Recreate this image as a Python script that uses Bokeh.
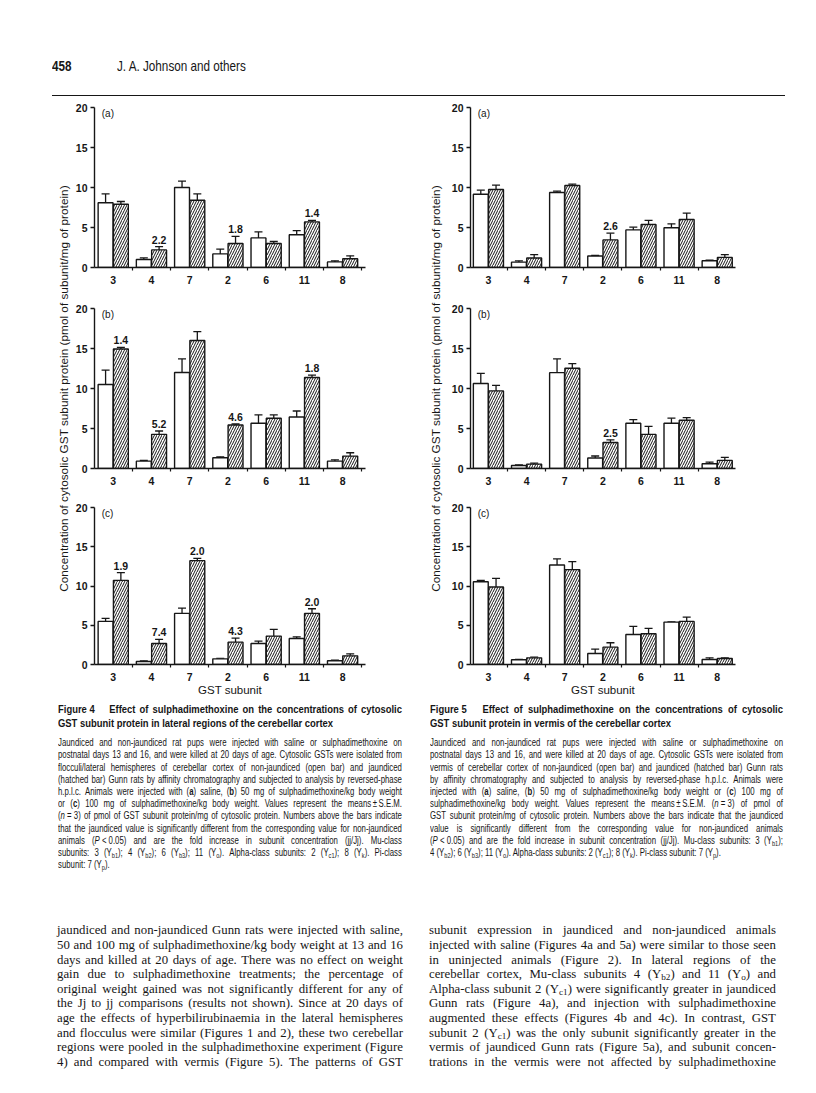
import math
from bokeh.plotting import figure
from bokeh.models import Range1d, FixedTicker, ColumnDataSource, Whisker, TeeHead, Div, Label
from bokeh.layouts import column, row
from bokeh.embed import file_html
from bokeh.resources import INLINE
from bokeh.core.properties import value

# ---------------- data ----------------
subunits = ["3", "4", "7", "2", "6", "11", "8"]

# Figure 4: lateral regions (non-jaundiced = open, jaundiced = hatched)
f4a_nonj = [8.1, 1.0, 10.0, 1.7, 3.7, 4.1, 0.7]
f4a_nonj_sem = [1.1, 0.2, 0.8, 0.6, 0.75, 0.5, 0.13]
f4a_jaun = [7.9, 2.2, 8.4, 3.0, 3.0, 5.7, 1.1]
f4a_jaun_sem = [0.35, 0.4, 0.8, 0.9, 0.25, 0.2, 0.36]
f4a_fold = ["", "2.2", "", "1.8", "", "1.4", ""]

f4b_nonj = [10.5, 0.92, 12.0, 1.34, 5.65, 6.44, 0.92]
f4b_nonj_sem = [1.8, 0.1, 1.7, 0.12, 1.05, 0.75, 0.17]
f4b_jaun = [14.94, 4.27, 16.0, 5.44, 6.28, 11.38, 1.55]
f4b_jaun_sem = [0.2, 0.42, 1.1, 0.12, 0.42, 0.3, 0.42]
f4b_fold = ["1.4", "5.2", "", "4.6", "", "1.8", ""]

f4c_nonj = [5.49, 0.38, 6.51, 0.72, 2.68, 3.32, 0.47]
f4c_nonj_sem = [0.38, 0.09, 0.68, 0.05, 0.3, 0.21, 0.08]
f4c_jaun = [10.72, 2.68, 13.23, 2.85, 3.62, 6.51, 1.1]
f4c_jaun_sem = [0.98, 0.51, 0.3, 0.51, 0.85, 0.59, 0.26]
f4c_fold = ["1.9", "7.4", "2.0", "4.3", "", "2.0", ""]

# Figure 5: vermis
f5a_nonj = [9.16, 0.67, 9.37, 1.43, 4.7, 4.96, 0.84]
f5a_nonj_sem = [0.5, 0.17, 0.17, 0.08, 0.34, 0.5, 0.08]
f5a_jaun = [9.75, 1.18, 10.25, 3.45, 5.38, 6.0, 1.26]
f5a_jaun_sem = [0.55, 0.42, 0.17, 0.84, 0.5, 0.8, 0.34]
f5a_fold = ["", "", "", "2.6", "", "", ""]

f5b_nonj = [10.63, 0.38, 11.98, 1.31, 5.65, 5.65, 0.59]
f5b_nonj_sem = [1.27, 0.08, 1.72, 0.25, 0.47, 0.64, 0.21]
f5b_jaun = [9.7, 0.55, 12.53, 3.25, 4.26, 6.03, 1.01]
f5b_jaun_sem = [0.68, 0.13, 0.59, 0.34, 1.01, 0.34, 0.38]
f5b_fold = ["", "", "", "2.5", "", "", ""]

f5c_nonj = [10.55, 0.6, 12.68, 1.4, 3.83, 5.4, 0.64]
f5c_nonj_sem = [0.17, 0.04, 0.77, 0.56, 1.02, 0.03, 0.21]
f5c_jaun = [9.87, 0.85, 12.09, 2.21, 3.91, 5.49, 0.77]
f5c_jaun_sem = [1.11, 0.09, 1.01, 0.56, 0.69, 0.55, 0.08]
f5c_fold = ["", "", "", "", "", "", ""]

y_ticks = [0, 5, 10, 15, 20]
y_title = "Concentration of cytosolic GST subunit protein (pmol of subunit/mg of protein)"
x_title = "GST subunit"

# ---------------- style ----------------
SANS = "Liberation Sans"
SERIF = "Liberation Serif"
INK = "#161616"


def panel(nonj, nonj_sem, jaun, jaun_sem, fold, letter, width, height,
          bl, br, bt, bb, x0, x1, xlabel=None):
    p = figure(width=width, height=height, x_range=Range1d(x0, x1), y_range=Range1d(0, 20),
               output_backend="svg", toolbar_location=None,
               min_border_left=bl, min_border_right=br, min_border_top=bt, min_border_bottom=bb)
    p.outline_line_color = None
    p.grid.visible = False
    p.background_fill_color = "white"
    p.border_fill_color = "white"
    xs = list(range(len(subunits)))
    src = ColumnDataSource(dict(
        xo=[i - 0.2 for i in xs], xj=[i + 0.2 for i in xs],
        nonj=nonj, nonj_hi=[v + s for v, s in zip(nonj, nonj_sem)],
        jaun=jaun, jaun_hi=[v + s for v, s in zip(jaun, jaun_sem)],
        fold=fold))
    p.vbar(x="xo", top="nonj", bottom=0, width=0.39, source=src,
           fill_color="white", line_color=INK, line_width=1.4)
    p.vbar(x="xj", top="jaun", bottom=0, width=0.39, source=src,
           fill_color="white", hatch_pattern="/", hatch_color=INK, hatch_scale=5,
           hatch_weight=1.0, line_color=INK, line_width=1.4)
    for base, lo, hi in (("xo", "nonj", "nonj_hi"), ("xj", "jaun", "jaun_hi")):
        w = Whisker(base=base, lower=lo, upper=hi, source=src, dimension="height",
                    line_color=INK, line_width=1.3, lower_head=None,
                    upper_head=TeeHead(size=8, line_color=INK, line_width=1.3))
        p.add_layout(w)
    p.text(x="xj", y="jaun_hi", text="fold", source=src, text_align="center",
           text_baseline="bottom", y_offset=-3, text_font=value(SANS),
           text_font_style="bold", text_font_size="10.5px", text_color=INK)
    p.add_layout(Label(x=x0 + 0.19, y=19.2, text=letter, text_baseline="middle",
                       text_font=SANS, text_font_size="10px", text_color=INK))

    yax = p.yaxis[0]
    yax.ticker = FixedTicker(ticks=y_ticks)
    yax.major_tick_out = 4
    yax.major_tick_in = 0
    yax.minor_tick_out = 0
    yax.minor_tick_in = 0
    yax.major_label_standoff = 3
    yax.axis_line_width = 1.4
    yax.axis_line_color = INK
    yax.major_tick_line_width = 1.3
    yax.major_tick_line_color = INK
    yax.major_label_text_font = SANS
    yax.major_label_text_font_style = "bold"
    yax.major_label_text_font_size = "10.5px"
    yax.major_label_text_color = INK

    xax = p.xaxis[0]
    xax.ticker = FixedTicker(ticks=xs, minor_ticks=[i + 0.5 for i in xs])
    xax.major_label_overrides = {i: s for i, s in enumerate(subunits)}
    xax.major_tick_out = 0
    xax.major_tick_in = 0
    xax.minor_tick_out = 3
    xax.minor_tick_in = 0
    xax.minor_tick_line_color = INK
    xax.minor_tick_line_width = 1.2
    xax.major_label_standoff = 5
    xax.axis_line_width = 1.4
    xax.axis_line_color = INK
    xax.major_label_text_font = SANS
    xax.major_label_text_font_style = "bold"
    xax.major_label_text_font_size = "10.5px"
    xax.major_label_text_color = INK
    if xlabel:
        xax.axis_label = xlabel
        xax.axis_label_standoff = 0
        xax.axis_label_text_font = SANS
        xax.axis_label_text_font_style = "normal"
        xax.axis_label_text_font_size = "11.5px"
        xax.axis_label_text_color = INK
    return p


def ytitle_fig(width, xpos):
    p = figure(width=width, height=600, x_range=Range1d(0, width), y_range=Range1d(0, 600),
               output_backend="svg", toolbar_location=None, min_border=0,
               x_axis_location=None, y_axis_location=None)
    p.outline_line_color = None
    p.grid.visible = False
    p.text(x=[xpos], y=[312], text=[y_title], angle=math.pi / 2, text_align="center",
           text_baseline="middle", text_font=value(SANS), text_font_size="11.8px",
           text_color=INK)
    return p


# Figure 4 column (page x 72..420)
F4X0, F4X1 = -0.49, 6.60
p4a = panel(f4a_nonj, f4a_nonj_sem, f4a_jaun, f4a_jaun_sem, f4a_fold, "(a)",
            348, 190, 20, 55, 7, 23, F4X0, F4X1)
p4b = panel(f4b_nonj, f4b_nonj_sem, f4b_jaun, f4b_jaun_sem, f4b_fold, "(b)",
            348, 197, 20, 55, 18, 19, F4X0, F4X1)
p4c = panel(f4c_nonj, f4c_nonj_sem, f4c_jaun, f4c_jaun_sem, f4c_fold, "(c)",
            348, 213, 20, 55, 20, 36, F4X0, F4X1, xlabel=x_title)

# Figure 5 column (page x 448..808)
F5X0, F5X1 = -0.47, 6.48
p5a = panel(f5a_nonj, f5a_nonj_sem, f5a_jaun, f5a_jaun_sem, f5a_fold, "(a)",
            360, 190, 20, 73, 7, 23, F5X0, F5X1)
p5b = panel(f5b_nonj, f5b_nonj_sem, f5b_jaun, f5b_jaun_sem, f5b_fold, "(b)",
            360, 197, 20, 73, 18, 19, F5X0, F5X1)
p5c = panel(f5c_nonj, f5c_nonj_sem, f5c_jaun, f5c_jaun_sem, f5c_fold, "(c)",
            360, 213, 20, 73, 20, 36, F5X0, F5X1, xlabel=x_title)

yt4 = ytitle_fig(72, 63)
yt5 = ytitle_fig(28, 15)

# ---------------- texts ----------------
SUB = '<sub style="font-size:0.72em;vertical-align:-0.25em;line-height:0">'


def fix(s):
    return s.replace("<sub>", SUB)


def line_html(ln, lh, justify):
    if justify:
        words = ln.split(" ")
        inner = "".join(f"<span>{fix(w)}</span>" for w in words)
        return (f'<div style="display:flex;justify-content:space-between;white-space:nowrap;'
                f'height:{lh}px;line-height:{lh}px">{inner}</div>')
    return f'<div style="white-space:nowrap;height:{lh}px;line-height:{lh}px">{fix(ln)}</div>'


def block(lines, lh, last_left=True):
    out = []
    for k, ln in enumerate(lines):
        last = (k == len(lines) - 1)
        out.append(line_html(ln, lh, not (last and last_left)))
    return "".join(out)


cap4_title = ["Figure&nbsp;4&nbsp;&nbsp;&nbsp;&nbsp; Effect of sulphadimethoxine on the concentrations of cytosolic",
              "GST subunit protein in lateral regions of the cerebellar cortex"]
cap4_body = [
    "Jaundiced and non-jaundiced rat pups were injected with saline or sulphadimethoxine on",
    "postnatal days 13 and 16, and were killed at 20 days of age. Cytosolic GSTs were isolated from",
    "flocculi/lateral hemispheres of cerebellar cortex of non-jaundiced (open bar) and jaundiced",
    "(hatched bar) Gunn rats by affinity chromatography and subjected to analysis by reversed-phase",
    "h.p.l.c. Animals were injected with (<b>a</b>) saline, (<b>b</b>) 50 mg of sulphadimethoxine/kg body weight",
    "or (<b>c</b>) 100 mg of sulphadimethoxine/kg body weight. Values represent the means&thinsp;&plusmn;&thinsp;S.E.M.",
    "(<i>n</i>&nbsp;=&nbsp;3) of pmol of GST subunit protein/mg of cytosolic protein. Numbers above the bars indicate",
    "that the jaundiced value is significantly different from the corresponding value for non-jaundiced",
    "animals (<i>P</i>&nbsp;&lt;&nbsp;0.05) and are the fold increase in subunit concentration (jj/Jj). Mu-class",
    "subunits: 3 (Y<sub>b1</sub>); 4 (Y<sub>b2</sub>); 6 (Y<sub>b3</sub>); 11 (Y<sub>o</sub>). Alpha-class subunits: 2 (Y<sub>c1</sub>); 8 (Y<sub>k</sub>). Pi-class",
    "subunit: 7 (Y<sub>p</sub>).",
]
cap5_title = ["Figure&nbsp;5&nbsp;&nbsp;&nbsp;&nbsp; Effect of sulphadimethoxine on the concentrations of cytosolic",
              "GST subunit protein in vermis of the cerebellar cortex"]
cap5_body = [
    "Jaundiced and non-jaundiced rat pups were injected with saline or sulphadimethoxine on",
    "postnatal days 13 and 16, and were killed at 20 days of age. Cytosolic GSTs were isolated from",
    "vermis of cerebellar cortex of non-jaundiced (open bar) and jaundiced (hatched bar) Gunn rats",
    "by affinity chromatography and subjected to analysis by reversed-phase h.p.l.c. Animals were",
    "injected with (<b>a</b>) saline, (<b>b</b>) 50 mg of sulphadimethoxine/kg body weight or (<b>c</b>) 100 mg of",
    "sulphadimethoxine/kg body weight. Values represent the means&thinsp;&plusmn;&thinsp;S.E.M. (<i>n</i>&nbsp;=&nbsp;3) of pmol of",
    "GST subunit protein/mg of cytosolic protein. Numbers above the bars indicate that the jaundiced",
    "value is significantly different from the corresponding value for non-jaundiced animals",
    "(<i>P</i>&nbsp;&lt;&nbsp;0.05) and are the fold increase in subunit concentration (jj/Jj). Mu-class subunits: 3 (Y<sub>b1</sub>);",
    "4 (Y<sub>b2</sub>); 6 (Y<sub>b3</sub>); 11 (Y<sub>o</sub>). Alpha-class subunits: 2 (Y<sub>c1</sub>); 8 (Y<sub>k</sub>). Pi-class subunit: 7 (Y<sub>p</sub>).",
]
body_left = [
    "jaundiced and non-jaundiced Gunn rats were injected with saline,",
    "50 and 100 mg of sulphadimethoxine/kg body weight at 13 and 16",
    "days and killed at 20 days of age. There was no effect on weight",
    "gain due to sulphadimethoxine treatments; the percentage of",
    "original weight gained was not significantly different for any of",
    "the Jj to jj comparisons (results not shown). Since at 20 days of",
    "age the effects of hyperbilirubinaemia in the lateral hemispheres",
    "and flocculus were similar (Figures 1 and 2), these two cerebellar",
    "regions were pooled in the sulphadimethoxine experiment (Figure",
    "4) and compared with vermis (Figure 5). The patterns of GST",
]
body_right = [
    "subunit expression in jaundiced and non-jaundiced animals",
    "injected with saline (Figures 4a and 5a) were similar to those seen",
    "in uninjected animals (Figure 2). In lateral regions of the",
    "cerebellar cortex, Mu-class subunits 4 (Y<sub>b2</sub>) and 11 (Y<sub>o</sub>) and",
    "Alpha-class subunit 2 (Y<sub>c1</sub>) were significantly greater in jaundiced",
    "Gunn rats (Figure 4a), and injection with sulphadimethoxine",
    "augmented these effects (Figures 4b and 4c). In contrast, GST",
    "subunit 2 (Y<sub>c1</sub>) was the only subunit significantly greater in the",
    "vermis of jaundiced Gunn rats (Figure 5a), and subunit concen-",
    "trations in the vermis were not affected by sulphadimethoxine",
]

SC = 0.78   # horizontal condensation of the sans face (caption body, header)
SCT = 0.82  # condensation of the bold caption titles


def caption_div(width, left, text_w, title, body):
    html = (
        f'<div style="position:relative;width:{width}px;height:160px;font-family:\'{SANS}\';color:{INK}">'
        f'<div style="position:absolute;left:{left}px;top:3.4px;width:{text_w / SCT:.1f}px;'
        f'transform:scaleX({SCT});transform-origin:0 0;font-weight:bold;font-size:11.5px">'
        f'{block(title, 13.3)}</div>'
        f'<div style="position:absolute;left:{left}px;top:37.2px;width:{text_w / SC:.1f}px;'
        f'transform:scaleX({SC});transform-origin:0 0;font-size:10px">'
        f'{block(body, 12.2)}</div>'
        f'</div>')
    return Div(text=html, width=width, height=160, margin=0)


def body_div(width, left, text_w, lines):
    html = (
        f'<div style="position:relative;width:{width}px;height:217px;font-family:\'{SERIF}\';'
        f'color:{INK};font-size:12.8px">'
        f'<div style="position:absolute;left:{left}px;top:63.4px;width:{text_w}px">'
        f'{block(lines, 14.6, last_left=False)}</div></div>')
    return Div(text=html, width=width, height=217, margin=0)


header_html = (
    f'<div style="position:relative;width:808px;height:100px;font-family:\'{SANS}\';color:{INK}">'
    f'<div style="position:absolute;left:52px;top:57px;font-size:15px;line-height:18px;font-weight:bold;'
    f'transform:scaleX({SC});transform-origin:0 0;white-space:nowrap">458</div>'
    f'<div style="position:absolute;left:117px;top:57px;font-size:15px;line-height:18px;'
    f'transform:scaleX({SC});transform-origin:0 0;white-space:nowrap">J. A. Johnson and others</div>'
    f'<div style="position:absolute;left:52px;top:95px;width:733px;height:0;border-top:1.6px solid {INK}"></div>'
    f'</div>')
header = Div(text=header_html, width=808, height=100, margin=0)

cap4 = caption_div(420, 58, 344, cap4_title, cap4_body)
cap5 = caption_div(388, 10, 353, cap5_title, cap5_body)
body4 = body_div(420, 57, 346, body_left)
body5 = body_div(388, 9, 347, body_right)

panels = row(yt4, column(p4a, p4b, p4c), yt5, column(p5a, p5b, p5c))
page = column(header, panels, row(cap4, cap5), row(body4, body5))

open("out.html", "w").write(file_html(page, INLINE, title="Figure 4 and Figure 5"))
